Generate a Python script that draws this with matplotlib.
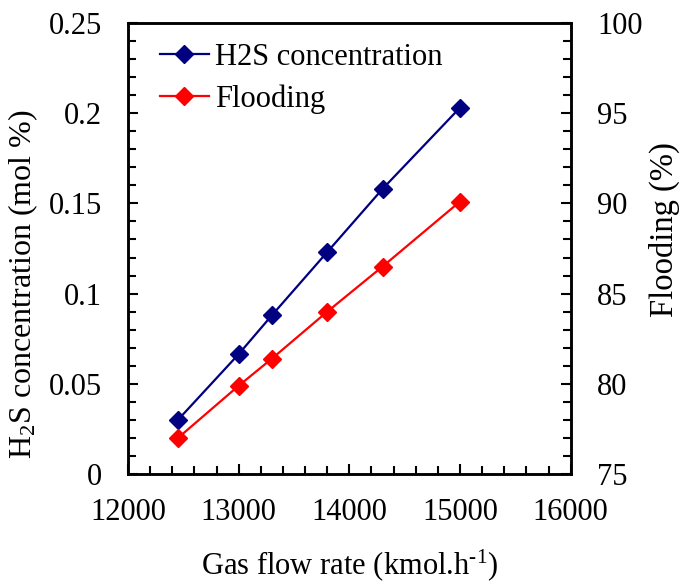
import matplotlib
matplotlib.use("Agg")
import matplotlib.pyplot as plt
from matplotlib.ticker import MultipleLocator, FuncFormatter

plt.rcParams['font.family'] = ['Liberation Serif', 'DejaVu Serif']
plt.rcParams['mathtext.fontset'] = 'custom'
plt.rcParams['mathtext.rm'] = 'Liberation Serif'
plt.rcParams['mathtext.it'] = 'Liberation Serif:italic'

gas_flow = [12450, 13000, 13300, 13800, 14300, 15000]
h2s_conc = [0.030, 0.0665, 0.088, 0.123, 0.158, 0.203]
flooding = [77.0, 79.9, 81.4, 84.0, 86.5, 90.1]

fig = plt.figure(figsize=(6.81, 5.84), dpi=100)
ax = fig.add_axes([0.188, 0.188, 0.650, 0.773])
ax2 = ax.twinx()

l1, = ax.plot(gas_flow, h2s_conc, color='#000080', marker='D', markersize=9, lw=1.6,
              label='H2S concentration')
l2, = ax2.plot(gas_flow, flooding, color='#FF0000', marker='D', markersize=9, lw=1.6,
               label='Flooding')

ax.set_xlim(12000, 16000)
ax.set_ylim(0, 0.25)
ax2.set_ylim(75, 100)

ax.xaxis.set_major_locator(MultipleLocator(1000))
ax.xaxis.set_minor_locator(MultipleLocator(200))
ax.yaxis.set_major_locator(MultipleLocator(0.05))
ax.yaxis.set_minor_locator(MultipleLocator(0.01))
ax.yaxis.set_major_formatter(FuncFormatter(lambda v, p: ('%.2f' % v).rstrip('0').rstrip('.') if v else '0'))
ax2.yaxis.set_major_locator(MultipleLocator(5))
ax2.yaxis.set_minor_locator(MultipleLocator(1))

fs = 22
for a in (ax, ax2):
    a.tick_params(which='both', direction='in', labelsize=fs, width=1.5)
    a.tick_params(which='major', length=7, pad=19)
    a.tick_params(which='minor', length=6)
    for s in a.spines.values():
        s.set_linewidth(1.8)
ax.tick_params(axis='x', which='both', top=False)
ax.tick_params(axis='x', which='major', pad=17)

ax.set_xlabel(r'Gas flow rate (kmol.h$^{\text{-}1}$)', fontsize=fs, labelpad=15)
ax.set_ylabel('H$_2$S concentration (mol %)', fontsize=23)
ax2.set_ylabel('Flooding (%)', fontsize=23.5)
ax.yaxis.set_label_coords(-0.199, 0.421)
ax2.yaxis.set_label_coords(1.176, 0.541)

ax.legend(handles=[l1, l2], loc='upper left', frameon=False, fontsize=fs,
          handlelength=1.6, handletextpad=0.2, labelspacing=0.42, borderpad=0,
          borderaxespad=0, bbox_to_anchor=(0.072, 0.956))

fig.savefig('out.png', dpi=100)
